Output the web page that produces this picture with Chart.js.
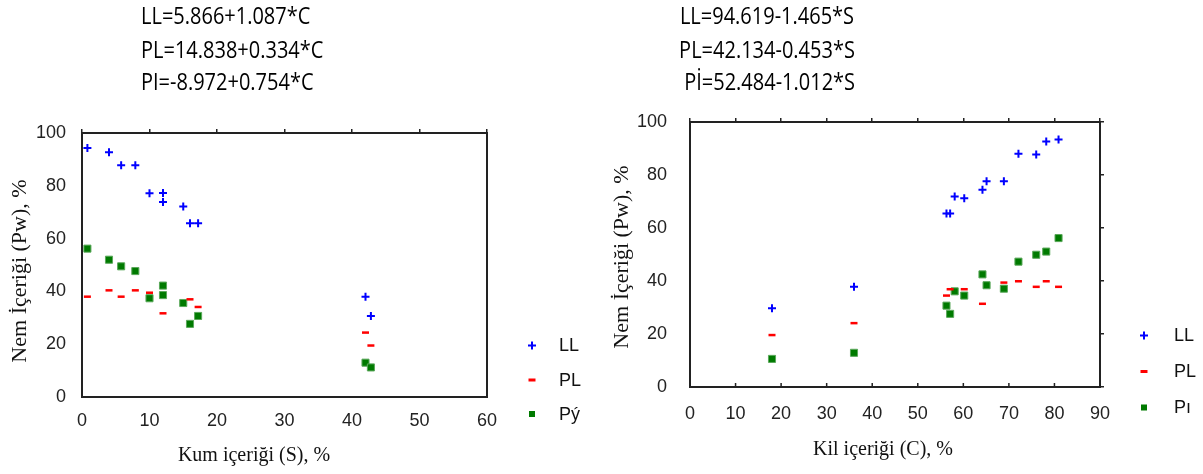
<!DOCTYPE html>
<html>
<head>
<meta charset="utf-8">
<script src="https://cdn.jsdelivr.net/npm/chart.js@4/dist/chart.umd.min.js"></script>
<style>
  html, body { margin:0; padding:0; background:#fff; width:1203px; height:474px; overflow:hidden; }
  canvas { position:absolute; top:0; }
  #cL { left:0; }
  #cR { left:600px; }
  .eq { position:absolute; top:0; font-family:"Open Sans", sans-serif; font-size:20px; line-height:28.7px; color:#000; white-space:nowrap; transform:scaleY(1.15); transform-origin:0 0; }
  #eqL { left:141px; text-align:left; }
  #eqR { left:617px; width:300px; text-align:center; }
</style>
</head>
<body>
<canvas id="cL" width="600" height="474"></canvas>
<canvas id="cR" width="603" height="474"></canvas>
<div class="eq" id="eqL">LL=5.866+1.087*C<br>PL=14.838+0.334*C<br>PI=-8.972+0.754*C</div>
<div class="eq" id="eqR">LL=94.619-1.465*S<br>PL=42.134-0.453*S<br>&nbsp;Pİ=52.484-1.012*S</div>
<script>
// ---- Left chart: moisture vs sand content (S) ----
const sandLL  = [0.8, 4.0, 5.8, 7.9, 10.0, 12.0, 12.0, 15.0, 16.0, 17.2, 42.0, 42.8];
const valLL_S = [94.3, 92.7, 87.8, 87.8, 77.2, 77.3, 73.9, 72.2, 65.8, 65.8, 38.0, 30.7];
const sandPL  = [0.8, 4.0, 5.8, 7.9, 10.0, 12.0, 16.0, 17.2, 42.0, 42.8];
const valPL_S = [38.0, 40.4, 38.0, 40.4, 39.5, 31.7, 37.0, 34.1, 24.4, 19.5];
const sandPI  = [0.8, 4.0, 5.8, 7.9, 10.0, 12.0, 12.0, 15.0, 16.0, 17.2, 42.0, 42.8];
const valPI_S = [56.2, 52.0, 49.5, 47.7, 37.4, 42.2, 38.6, 35.6, 27.7, 30.7, 13.0, 11.2];

// ---- Right chart: moisture vs clay content (C) ----
const clayLL  = [18.0, 36.0, 56.3, 57.1, 58.1, 60.2, 64.2, 65.1, 68.9, 72.1, 76.0, 78.2, 80.9];
const valLL_C = [29.7, 37.8, 65.5, 65.5, 71.9, 71.2, 74.4, 77.6, 77.6, 88.0, 87.7, 92.6, 93.4];
const clayPL  = [18.0, 36.0, 56.3, 57.1, 60.2, 64.2, 68.9, 72.1, 76.0, 78.2, 80.9];
const valPL_C = [19.6, 24.1, 34.5, 36.9, 36.9, 31.4, 39.4, 39.9, 37.8, 39.9, 37.8];
const clayPI  = [18.0, 36.0, 56.3, 57.1, 58.1, 60.2, 64.2, 65.1, 68.9, 72.1, 76.0, 78.2, 80.9];
const valPI_C = [10.6, 12.9, 30.7, 27.6, 36.1, 34.5, 42.5, 38.4, 37.1, 47.3, 49.9, 51.1, 56.2];

const seriesLabelsL = ['LL', 'PL', 'Pý'];
const seriesLabelsR = ['LL', 'PL', 'Pı'];
const yTicksMax = 100;
const xMaxL = 60, xMaxR = 90;
const yTitle = 'Nem İçeriği (Pw), %';
const xTitleL = 'Kum içeriği (S), %';
const xTitleR = 'Kil içeriği (C), %';

const zip = (xs, ys) => xs.map((x, i) => ({x: x, y: ys[i]}));

const tickFont = {family: '"Liberation Sans", Arial, sans-serif', size: 18};
const axisColor = '#222';

const customText = {
  id: 'customText',
  afterDraw(chart, args, o) {
    const ctx = chart.ctx;
    ctx.save();
    ctx.fillStyle = '#111';
    ctx.textBaseline = 'middle';
    // x title
    ctx.font = '20px "Liberation Serif", "Times New Roman", serif';
    ctx.textAlign = 'center';
    ctx.fillText(o.xTitle, o.xTitleX, o.xTitleY);
    // y title
    ctx.save();
    ctx.translate(o.yTitleX, o.yTitleY);
    ctx.rotate(-Math.PI / 2);
    ctx.font = '22px "Liberation Serif", "Times New Roman", serif';
    ctx.fillText(o.yTitle, 0, 0);
    ctx.restore();
    // inward ticks on bottom axis (right chart)
    if (o.bottomInward) {
      const xs = chart.scales.x;
      ctx.save();
      ctx.strokeStyle = axisColor; ctx.lineWidth = 1.5;
      ctx.beginPath();
      xs.ticks.forEach(t => {
        const px = xs.getPixelForValue(t.value);
        ctx.moveTo(px, chart.chartArea.bottom);
        ctx.lineTo(px, chart.chartArea.bottom - 4);
      });
      ctx.stroke();
      ctx.restore();
    }
    // legend
    ctx.font = '18px "Liberation Sans", Arial, sans-serif';
    ctx.textAlign = 'left';
    chart.data.datasets.forEach((ds, i) => {
      const y = o.legY[i], x = o.legMarkX;
      ctx.save();
      if (ds.pointStyle === 'cross') {
        ctx.strokeStyle = ds.borderColor; ctx.lineWidth = 2;
        ctx.beginPath();
        ctx.moveTo(x - 4, y); ctx.lineTo(x + 4, y);
        ctx.moveTo(x, y - 4); ctx.lineTo(x, y + 4);
        ctx.stroke();
      } else if (ds.pointStyle === 'line') {
        ctx.strokeStyle = ds.borderColor; ctx.lineWidth = 3;
        ctx.beginPath(); ctx.moveTo(x - 3.5, y); ctx.lineTo(x + 3.5, y); ctx.stroke();
      } else {
        ctx.fillStyle = ds.backgroundColor;
        ctx.fillRect(x - 3, y - 3, 6, 6);
      }
      ctx.restore();
      ctx.fillStyle = '#111';
      ctx.fillText(ds.label, o.legTextX, y + 1);
    });
    ctx.restore();
  }
};

function makeDatasets(labels, ll, pl, pi) {
  return [
    {label: labels[0], data: ll, pointStyle: 'cross', pointRadius: 4, borderColor: '#0000ff', backgroundColor: '#0000ff', pointBorderWidth: 2, showLine: false},
    {label: labels[1], data: pl, pointStyle: 'line', pointRadius: 3.5, borderColor: '#ff0000', backgroundColor: '#ff0000', pointBorderWidth: 2.5, showLine: false},
    {label: labels[2], data: pi, pointStyle: 'rect', pointRadius: 5, borderColor: '#5aa85a', backgroundColor: '#007a00', pointBorderWidth: 1, showLine: false}
  ];
}

function makeOptions(cfg) {
  return {
    responsive: false, animation: false, events: [],
    layout: {padding: 0},
    plugins: {legend: {display: false}, tooltip: {enabled: false}, customText: cfg.text},
    scales: {
      x: {type: 'linear', position: 'bottom', min: 0, max: cfg.xMax,
          ticks: {stepSize: 10, font: tickFont, color: axisColor, padding: cfg.xPad, maxRotation: 0, autoSkip: false},
          grid: {display: false}, border: {color: axisColor, width: 2},
          afterFit: s => { s.height = cfg.bottomH; }},
      x2: {type: 'linear', position: 'top', min: 0, max: cfg.xMax,
          ticks: {stepSize: 10, display: false},
          grid: {drawOnChartArea: false, drawTicks: true, tickLength: 4, color: axisColor, lineWidth: 1.5},
          border: {color: axisColor, width: 2},
          afterFit: s => { s.height = cfg.topH; }},
      y: {type: 'linear', position: 'left', min: 0, max: yTicksMax,
          ticks: {stepSize: 20, font: tickFont, color: axisColor, padding: cfg.yPad},
          grid: {display: false}, border: {color: axisColor, width: 2},
          afterFit: s => { s.width = cfg.leftW; }},
      y2: {type: 'linear', position: 'right', min: 0, max: yTicksMax,
          ticks: {stepSize: 20, display: false},
          grid: {display: cfg.rightTicks, drawOnChartArea: false, drawTicks: true, tickLength: 4, color: axisColor, lineWidth: 1.5},
          border: {color: axisColor, width: 2},
          afterFit: s => { s.width = cfg.rightW; }}
    }
  };
}

new Chart(document.getElementById('cL'), {
  type: 'scatter',
  data: {datasets: makeDatasets(seriesLabelsL, zip(sandLL, valLL_S), zip(sandPL, valPL_S), zip(sandPI, valPI_S))},
  options: makeOptions({
    xMax: xMaxL, xPad: 5, yPad: 8, bottomH: 77, topH: 133, leftW: 82, rightW: 113, rightTicks: false,
    text: {xTitle: xTitleL, xTitleX: 254, xTitleY: 456, yTitle: yTitle, yTitleX: 20, yTitleY: 271,
           legMarkX: 532, legTextX: 559, legY: [345.5, 380, 414], bottomInward: false}
  }),
  plugins: [customText]
});

new Chart(document.getElementById('cR'), {
  type: 'scatter',
  data: {datasets: makeDatasets(seriesLabelsR, zip(clayLL, valLL_C), zip(clayPL, valPL_C), zip(clayPI, valPI_C))},
  options: makeOptions({
    xMax: xMaxR, xPad: 8, yPad: 15, bottomH: 87, topH: 122, leftW: 90, rightW: 103, rightTicks: true,
    text: {xTitle: xTitleR, xTitleX: 283, xTitleY: 450, yTitle: yTitle, yTitleX: 22, yTitleY: 257,
           legMarkX: 544, legTextX: 574, legY: [335.5, 371.5, 407.5], bottomInward: true}
  }),
  plugins: [customText]
});
</script>
</body>
</html>
